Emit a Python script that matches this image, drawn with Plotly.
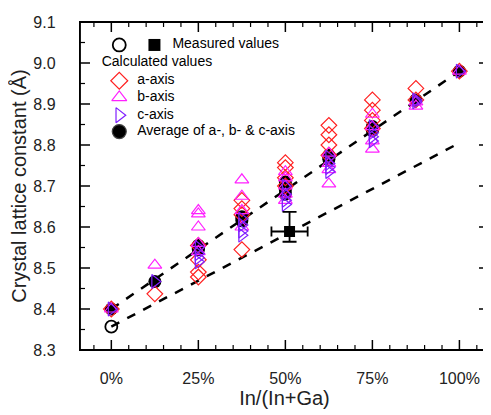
import numpy as np
import plotly.graph_objects as go

# ---- data ----
comp = [0.0, 0.125, 0.25, 0.375, 0.5, 0.625, 0.75, 0.875, 1.0]

a_axis = [[8.40], [8.437], [8.555, 8.52, 8.49, 8.478], [8.665, 8.645, 8.63, 8.545],
          [8.757, 8.745, 8.72, 8.70], [8.848, 8.825, 8.80, 8.775],
          [8.91, 8.885, 8.86, 8.84], [8.938, 8.91], [8.98]]
b_axis = [[8.40], [8.507], [8.64, 8.632, 8.60, 8.56, 8.54], [8.715, 8.675, 8.64, 8.60],
          [8.735, 8.72, 8.70, 8.68, 8.665], [8.78, 8.755, 8.74, 8.705],
          [8.875, 8.845, 8.81, 8.79], [8.905, 8.895], [8.98]]
c_axis = [[8.40], [8.467], [8.55, 8.535, 8.515, 8.525], [8.62, 8.605, 8.59, 8.58],
          [8.70, 8.68, 8.665, 8.655], [8.77, 8.755, 8.745, 8.735],
          [8.845, 8.83, 8.82, 8.81], [8.91, 8.905], [8.98]]
avg_abc = [[8.40], [8.467], [8.555, 8.548, 8.545], [8.625, 8.62, 8.615],
           [8.71, 8.70, 8.69, 8.68], [8.775, 8.77, 8.765],
           [8.845, 8.84, 8.835], [8.91], [8.98]]

meas_open_x = [0.0]
meas_open_y = [8.357]
meas_sq_x = [0.512]
meas_sq_y = [8.589]
meas_sq_err_up = [0.048]
meas_sq_err_down = [0.025]
meas_sq_err_x = [0.052]

calc_fit_x = [0.0, 1.0]
calc_fit_y = [8.40, 8.98]
meas_fit_x = [0.0, 1.0]
meas_fit_y = [8.357, 8.805]

X_RANGE = [-0.09, 1.085]
Y_RANGE = [8.3, 9.1]

FONT = "Arial"
RED, PINK, VIOLET = "#FF2020", "#FF20FF", "#8020FF"

# figure geometry (the page puts the figure 8px in from the top-left corner)
W, H = 483, 407
ML, MR, MT, MB = 72, 2, 14, 65
PW, PH = W - ML - MR, H - MT - MB
UX = (X_RANGE[1] - X_RANGE[0]) / PW   # data units per pixel
UY = (Y_RANGE[1] - Y_RANGE[0]) / PH


def flatten(groups):
    xs, ys = [], []
    for c, vals in zip(comp, groups):
        for v in vals:
            xs.append(c)
            ys.append(v)
    return xs, ys


def fx(f):
    return X_RANGE[0] + f * (X_RANGE[1] - X_RANGE[0])


def fy(f):
    return Y_RANGE[0] + f * (Y_RANGE[1] - Y_RANGE[0])


fig = go.Figure()

# ---- frame and inside tick marks on all four sides ----
x0, x1 = X_RANGE
y0, y1 = Y_RANGE
fig.add_trace(go.Scatter(x=[x0, x1, x1, x0, x0], y=[y0, y0, y1, y1, y0], mode="lines",
                         line=dict(color="black", width=1.8), hoverinfo="none"))
for major in (True, False):
    tx, ty = [], []
    L = 10 if major else 5
    for xv in np.round(np.arange(-0.05, x1, 0.05), 4):
        is_major = abs(xv / 0.25 - round(xv / 0.25)) < 1e-6
        if is_major != major:
            continue
        tx += [float(xv), float(xv), None, float(xv), float(xv), None]
        ty += [y0, y0 + L * UY, None, y1, y1 - L * UY, None]
    for yv in np.round(np.arange(y0 + 0.05, y1, 0.05), 4):
        is_major = abs(yv / 0.1 - round(yv / 0.1)) < 1e-6
        if is_major != major:
            continue
        tx += [x0, x0 + L * UX, None, x1, x1 - L * UX, None]
        ty += [float(yv), float(yv), None, float(yv), float(yv), None]
    fig.add_trace(go.Scatter(x=tx, y=ty, mode="lines", hoverinfo="none",
                             line=dict(color="black", width=1.5 if major else 1.2)))

# fit lines
fig.add_trace(go.Scatter(x=calc_fit_x, y=calc_fit_y, mode="lines",
                         line=dict(color="black", width=2.5, dash="dash")))
fig.add_trace(go.Scatter(x=meas_fit_x, y=meas_fit_y, mode="lines",
                         line=dict(color="black", width=2.5, dash="dash")))

# calculated values
x, y = flatten(avg_abc)
fig.add_trace(go.Scatter(x=x, y=y, mode="markers",
                         marker=dict(symbol="circle", size=13, color="black")))
x, y = flatten(a_axis)
fig.add_trace(go.Scatter(x=x, y=y, mode="markers",
                         marker=dict(symbol="diamond-open", size=12, color=RED, line=dict(width=1.2))))
x, y = flatten(b_axis)
fig.add_trace(go.Scatter(x=x, y=y, mode="markers",
                         marker=dict(symbol="triangle-up-open", size=12, color=PINK, line=dict(width=1.2))))
x, y = flatten(c_axis)
fig.add_trace(go.Scatter(x=x, y=y, mode="markers",
                         marker=dict(symbol="triangle-right-open", size=12, color=VIOLET, line=dict(width=1.2))))

# measured values
fig.add_trace(go.Scatter(x=meas_open_x, y=meas_open_y, mode="markers",
                         marker=dict(symbol="circle-open", size=12, color="black", line=dict(width=1.8))))
fig.add_trace(go.Scatter(x=meas_sq_x, y=meas_sq_y, mode="markers",
                         marker=dict(symbol="square", size=11, color="black"),
                         error_y=dict(type="data", symmetric=False, array=meas_sq_err_up,
                                      arrayminus=meas_sq_err_down, color="black",
                                      thickness=1.8, width=7),
                         error_x=dict(type="data", array=meas_sq_err_x, color="black",
                                      thickness=1.8, width=5)))

# ---- hand-built legend (positions given as fractions of the plot area) ----
leg_marker_f = 0.096
leg_text_f = 0.140
leg_rows = [
    (0.821, "diamond-open", RED, "a-axis"),
    (0.770, "triangle-up-open", PINK, "b-axis"),
    (0.716, "triangle-right-open", VIOLET, "c-axis"),
    (0.666, "circle", "black", "Average of a-, b- & c-axis"),
]
fig.add_trace(go.Scatter(x=[fx(leg_marker_f)], y=[fy(0.930)], mode="markers",
                         marker=dict(symbol="circle-open", size=13, color="black", line=dict(width=1.8))))
fig.add_trace(go.Scatter(x=[fx(0.182)], y=[fy(0.930)], mode="markers",
                         marker=dict(symbol="square", size=12, color="black")))
texts = [(0.226, 0.930, "Measured values"), (0.053, 0.876, "Calculated values")]
for yy, sym, col, label in leg_rows:
    size = 14 if sym == "circle" else 13
    fig.add_trace(go.Scatter(x=[fx(leg_marker_f)], y=[fy(yy)], mode="markers",
                             marker=dict(symbol=sym, size=size, color=col, line=dict(width=1.2))))
    texts.append((leg_text_f, yy, label))
for tf, yy, label in texts:
    fig.add_trace(go.Scatter(x=[fx(tf)], y=[fy(yy)], mode="text", text=[label],
                             textposition="middle right", hoverinfo="none",
                             textfont=dict(family=FONT, size=14, color="black")))

axis_common = dict(showline=True, linecolor="black", linewidth=1.4, mirror=True,
                   ticks="", showgrid=False, zeroline=False, automargin=False,
                   tickfont=dict(family=FONT, size=16, color="#222"))

fig.update_layout(
    width=W, height=H,
    margin=dict(l=ML, r=MR, t=MT, b=MB),
    plot_bgcolor="white",
    showlegend=False,
    xaxis=dict(range=X_RANGE, tickmode="linear", tick0=0, dtick=0.25, tickformat=".0%",
               ticklabelstandoff=14,
               title=dict(text="In/(In+Ga)", font=dict(family=FONT, size=20, color="#222"),
                          standoff=4),
               **axis_common),
    yaxis=dict(range=Y_RANGE, tickmode="linear", tick0=8.3, dtick=0.1, tickformat=".1f",
               ticklabelstandoff=20,
               title=dict(text="Crystal lattice constant (Å)",
                          font=dict(family=FONT, size=20, color="#222"), standoff=6),
               **axis_common),
)

fig.write_html("out.html")
